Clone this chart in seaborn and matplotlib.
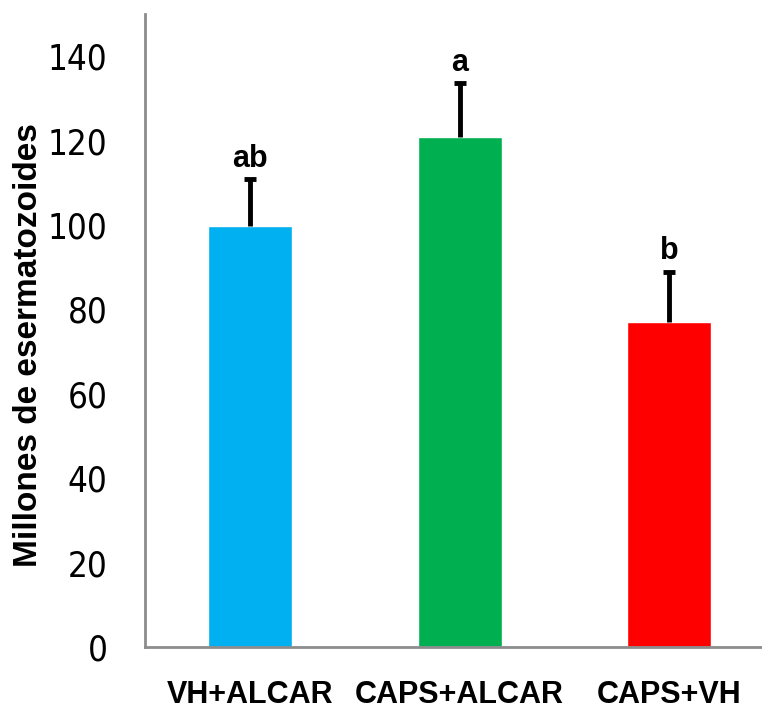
import matplotlib
matplotlib.use("Agg")
import matplotlib.pyplot as plt
import seaborn as sns
import pandas as pd

# data
groups = ["VH+ALCAR", "CAPS+ALCAR", "CAPS+VH"]
means = [99.8, 120.8, 77.1]
errors = [11.0, 12.8, 11.8]
letters = ["ab", "a", "b"]
colors = ["#00B0F0", "#00B050", "#FF0000"]

df = pd.DataFrame({"grupo": groups, "valor": means})

sns.set_style("white")
plt.rcParams["font.family"] = ["Liberation Sans", "DejaVu Sans"]
plt.rcParams["text.color"] = "black"
plt.rcParams["axes.labelcolor"] = "black"
plt.rcParams["xtick.color"] = "black"
plt.rcParams["ytick.color"] = "black"

fig = plt.figure(figsize=(7.62, 7.11), dpi=100)
ax = fig.add_axes([145 / 762, 64 / 711, 625 / 762, 633 / 711])

sns.barplot(data=df, x="grupo", y="valor", hue="grupo", palette=colors,
            width=0.4, errorbar=None, legend=False, ax=ax, saturation=1)

# only the upper half of the error bar
eb = ax.errorbar(range(len(groups)), means, yerr=[[0] * 3, errors], fmt="none",
                 ecolor="black", elinewidth=3.5, capsize=4.5, capthick=3.5)
eb[1][0].set_visible(False)  # hide the cap sitting on the bar top

for i, (m, e, lab) in enumerate(zip(means, errors, letters)):
    ax.text(i, m + e + 3, lab, ha="center", va="baseline",
            fontsize=22, fontweight="bold")

ax.set_ylim(0, 150)
ax.set_xlim(-0.5, 2.48)
ax.set_yticks(range(0, 141, 20))
ax.set_yticklabels([str(v) for v in range(0, 141, 20)],
                   family="DejaVu Sans", fontstretch="condensed", fontsize=25)
ax.set_xticks(range(len(groups)))
ax.set_xticklabels(groups, fontsize=22, fontweight="bold")
ax.tick_params(axis="y", length=0, pad=27)
ax.tick_params(axis="x", length=0, pad=24)

ax.set_xlabel("")
ax.set_ylabel("Millones de esermatozoides", fontsize=24, fontweight="bold")
ax.yaxis.set_label_coords(-0.162, 0.477)

for s in ["top", "right"]:
    ax.spines[s].set_visible(False)
for s in ["left", "bottom"]:
    ax.spines[s].set_color("#8C8C8C")
    ax.spines[s].set_linewidth(2)

fig.savefig("out.png", dpi=100)
